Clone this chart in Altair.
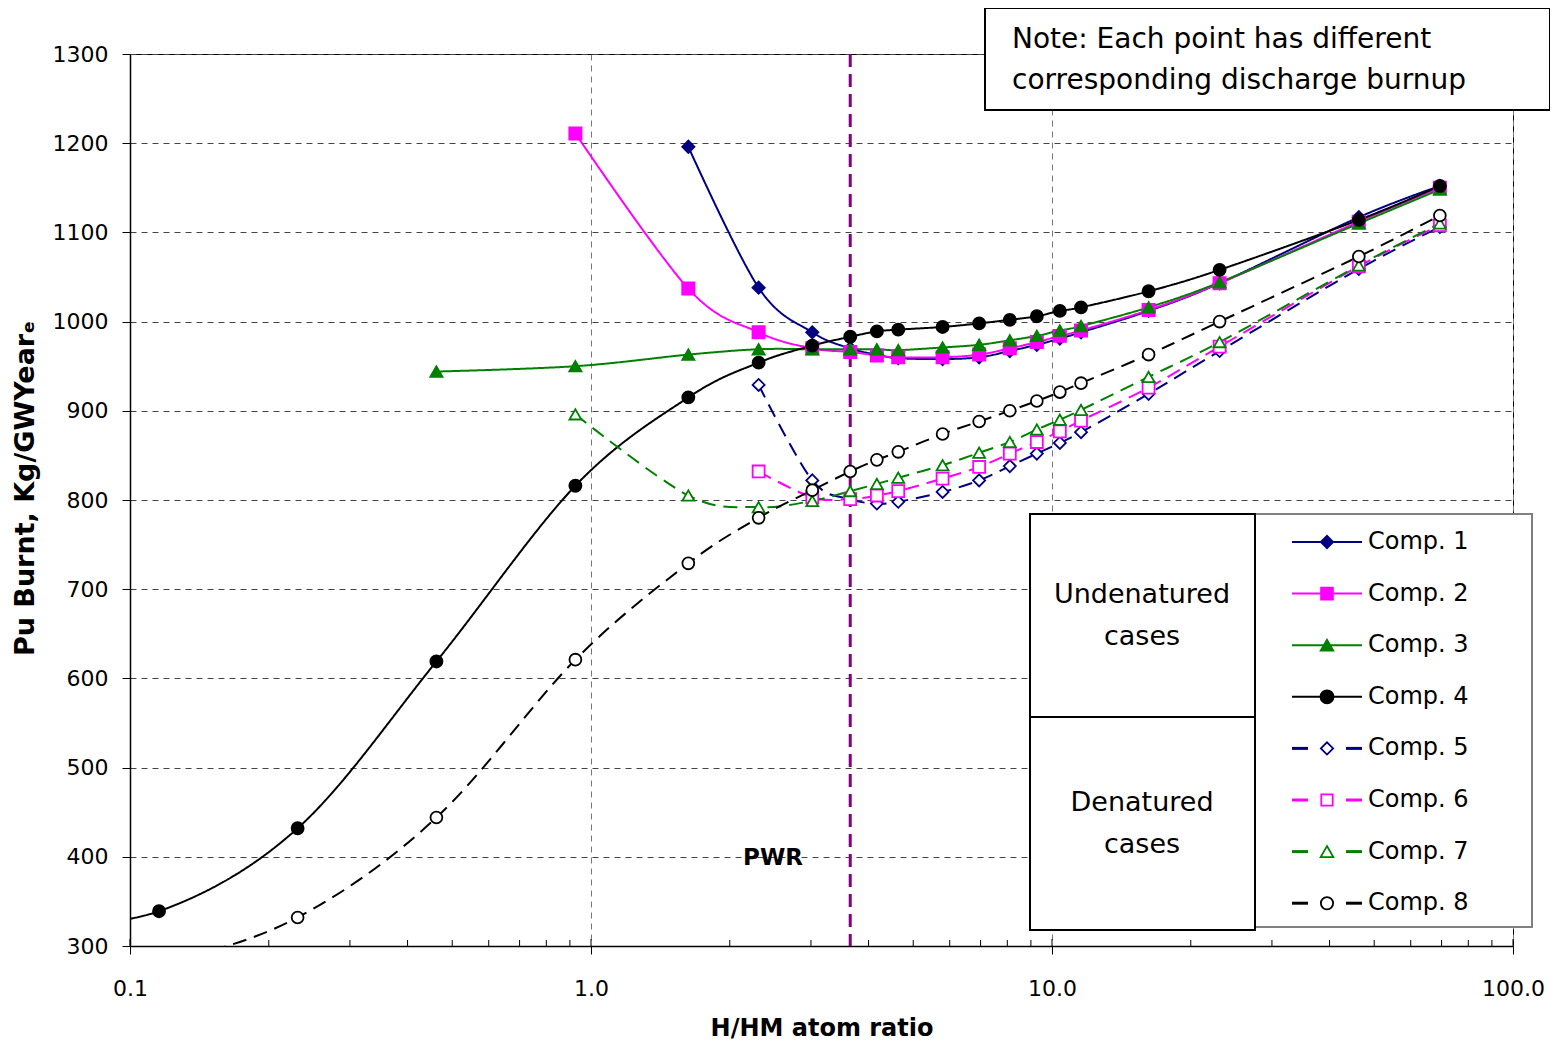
import altair as alt
import pandas as pd

# ---------------- data ----------------
series = ["Comp. 1", "Comp. 2", "Comp. 3", "Comp. 4",
          "Comp. 5", "Comp. 6", "Comp. 7", "Comp. 8"]

# H/HM atom ratio values (shared grid; each series ends at the last value)
x_ratio = [0.0578, 0.1156, 0.231, 0.462, 0.925, 1.626, 2.31, 3.02, 3.65, 4.17, 4.64,
           5.79, 6.95, 8.1, 9.27, 10.4, 11.56, 16.2, 23.1, 46.3, 69.4]

comp1 = [1196, 1038, 988, 970, 963, 959, 958, 960, 967, 974, 981, 988, 1012, 1043, 1117, 1152]
comp2 = [1211, 1037, 988, 970, 966, 962, 960, 960, 963, 970, 977, 984, 990, 1013, 1043, 1112, 1150]
comp3 = [944, 950, 963, 969, 969, 969, 969, 968, 971, 974, 979, 984, 990, 995, 1016, 1044, 1110, 1148]
comp4 = [320, 339, 432, 619, 816, 915, 954, 973, 983, 989, 991, 994, 998, 1002, 1006, 1012, 1016, 1034, 1058, 1114, 1152]
comp5 = [929, 822, 801, 796, 798, 809, 822, 838, 852, 864, 876, 919, 967, 1059, 1106]
comp6 = [832, 803, 801, 805, 810, 824, 837, 852, 865, 877, 889, 926, 972, 1062, 1108]
comp7 = [896, 805, 792, 799, 810, 818, 825, 839, 853, 865, 879, 890, 901, 938, 977, 1063, 1110]
comp8 = [240, 278, 332, 444, 621, 729, 780, 811, 832, 845, 854, 874, 888, 900, 911, 921, 931, 963, 1000, 1073, 1119]

pwr_ratio = [3.65]
x_ticks = [0.1, 1, 10, 100]
x_minor = [0.2, 0.3, 0.4, 0.5, 0.6, 0.7, 0.8, 0.9,
           2, 3, 4, 5, 6, 7, 8, 9,
           20, 30, 40, 50, 60, 70, 80, 90]
y_ticks = [300, 400, 500, 600, 700, 800, 900, 1000, 1100, 1200, 1300]

# ---------------- styles ----------------
colors = ["#000080", "#FF00FF", "#008000", "#000000",
          "#000080", "#FF00FF", "#008000", "#000000"]
fills = ["#000080", "#FF00FF", "#008000", "#000000",
         "white", "white", "white", "white"]
shapes = ["diamond", "square", "triangle-up", "circle",
          "diamond", "square", "triangle-up", "circle"]
sizes = [150, 140, 160, 170, 150, 130, 160, 150]
dashes = [[1, 0], [1, 0], [1, 0], [1, 0], [14, 8], [14, 8], [14, 8], [14, 8]]

all_vals = [comp1, comp2, comp3, comp4, comp5, comp6, comp7, comp8]
rows = []
for i, (name, vals) in enumerate(zip(series, all_vals)):
    xs = x_ratio[len(x_ratio) - len(vals):]
    for x, y in zip(xs, vals):
        rows.append({"series": name, "ratio": x, "burnt": y, "k": i})
df = pd.DataFrame(rows)

FONT = "DejaVu Sans"
W, H = 1383, 892

xscale = alt.Scale(type="log", domain=[0.1, 100], nice=False)
yscale = alt.Scale(domain=[300, 1300], nice=False, zero=False)

xenc = alt.X("ratio:Q", scale=xscale,
             axis=alt.Axis(values=x_ticks, format=".1f", title="H/HM atom ratio",
                           grid=True, gridDash=[6, 5], gridColor="#777777", gridWidth=1,
                           tickSize=8, tickColor="#000000", labelPadding=24,
                           labelFontSize=22, labelFont=FONT, labelColor="#000000",
                           titleFont=FONT, titleFontSize=24, titleFontWeight="bold",
                           titleColor="#000000", titleY=82, titleBaseline="middle",
                           domainColor="#000000", domainWidth=1.5, labelFlush=False))
yenc = alt.Y("burnt:Q", scale=yscale,
             axis=alt.Axis(values=y_ticks, format="d", title="Pu Burnt, Kg/GWYear\u2091",
                           grid=True, gridDash=[6, 5], gridColor="#444444", gridWidth=1,
                           tickSize=8, tickColor="#000000", labelPadding=14,
                           labelFontSize=22, labelFont=FONT, labelColor="#000000",
                           titleFont=FONT, titleFontSize=27, titleFontWeight="bold",
                           titleColor="#000000", titleAngle=270, titleX=-105, titleY=434,
                           titleAlign="center", titleBaseline="middle",
                           domainColor="#000000", domainWidth=1.5))

lines = alt.Chart(df).mark_line(clip=True, interpolate="cardinal", tension=0, strokeWidth=2).encode(
    x=xenc, y=yenc,
    color=alt.Color("series:N", scale=alt.Scale(domain=series, range=colors), legend=None),
    strokeDash=alt.StrokeDash("series:N", scale=alt.Scale(domain=series, range=dashes), legend=None),
    order=alt.Order("ratio:Q"),
)

points = alt.Chart(df).mark_point(clip=True, filled=True, opacity=1, strokeWidth=1.8).encode(
    x=alt.X("ratio:Q", scale=xscale),
    y=alt.Y("burnt:Q", scale=yscale),
    shape=alt.Shape("series:N", scale=alt.Scale(domain=series, range=shapes), legend=None),
    fill=alt.Fill("series:N", scale=alt.Scale(domain=series, range=fills), legend=None),
    stroke=alt.Stroke("series:N", scale=alt.Scale(domain=series, range=colors), legend=None),
    size=alt.Size("series:N", scale=alt.Scale(domain=series, range=sizes), legend=None),
    order=alt.Order("k:Q"),
)

pwr = alt.Chart(pd.DataFrame({"ratio": pwr_ratio})).mark_rule(
    color="#800080", strokeWidth=3, strokeDash=[13, 7]).encode(
    x=alt.X("ratio:Q", scale=xscale))

minor = alt.Chart(pd.DataFrame({"ratio": x_minor})).mark_rule(
    color="#000000", strokeWidth=1).encode(
    x=alt.X("ratio:Q", scale=xscale), y=alt.value(H - 6), y2=alt.value(H))
major_in = alt.Chart(pd.DataFrame({"ratio": x_ticks})).mark_rule(
    color="#000000", strokeWidth=1).encode(
    x=alt.X("ratio:Q", scale=xscale), y=alt.value(H - 7), y2=alt.value(H))

one = pd.DataFrame({"k": [0]})

pwr_text = alt.Chart(one).mark_text(text="PWR", font=FONT, fontSize=23, fontWeight="bold",
                                    align="center", baseline="middle", color="#000000").encode(
    x=alt.value(643), y=alt.value(804))

# Note box
note_box = alt.Chart(one).mark_rect(fill="white", stroke="#000000", strokeWidth=2).encode(
    x=alt.value(855), x2=alt.value(1420), y=alt.value(-46), y2=alt.value(56))
note_l1 = alt.Chart(one).mark_text(text="Note: Each point has different", font=FONT,
                                   fontSize=28, align="left", baseline="middle", color="#000000").encode(
    x=alt.value(882), y=alt.value(-14))
note_l2 = alt.Chart(one).mark_text(text="corresponding discharge burnup", font=FONT,
                                   fontSize=28, align="left", baseline="middle", color="#000000").encode(
    x=alt.value(882), y=alt.value(27))

# Legend boxes
leg_right = alt.Chart(one).mark_rect(fill="white", stroke="#808080", strokeWidth=2).encode(
    x=alt.value(1125), x2=alt.value(1402), y=alt.value(460), y2=alt.value(873))
leg_top = alt.Chart(one).mark_rect(fill="white", stroke="#000000", strokeWidth=2).encode(
    x=alt.value(900), x2=alt.value(1125), y=alt.value(460), y2=alt.value(663))
leg_bot = alt.Chart(one).mark_rect(fill="white", stroke="#000000", strokeWidth=2).encode(
    x=alt.value(900), x2=alt.value(1125), y=alt.value(663), y2=alt.value(876))

group_texts = []
for txt, yy in [("Undenatured", 541), ("cases", 583), ("Denatured", 749), ("cases", 791)]:
    group_texts.append(alt.Chart(one).mark_text(text=txt, font=FONT, fontSize=27, align="center",
                                                baseline="middle", color="#000000").encode(
        x=alt.value(1012), y=alt.value(yy)))

legend_layers = []
for i, name in enumerate(series):
    yy = 488 + i * 51.6
    if i < 4:
        legend_layers.append(alt.Chart(one).mark_rule(color=colors[i], strokeWidth=2).encode(
            x=alt.value(1162), x2=alt.value(1232), y=alt.value(yy)))
    else:
        legend_layers.append(alt.Chart(one).mark_rule(color=colors[i], strokeWidth=3).encode(
            x=alt.value(1162), x2=alt.value(1178), y=alt.value(yy)))
        legend_layers.append(alt.Chart(one).mark_rule(color=colors[i], strokeWidth=3).encode(
            x=alt.value(1216), x2=alt.value(1232), y=alt.value(yy)))
    legend_layers.append(alt.Chart(one).mark_point(shape=shapes[i], filled=True, fill=fills[i],
                                                   stroke=colors[i], size=sizes[i], opacity=1,
                                                   strokeWidth=1.8).encode(
        x=alt.value(1197), y=alt.value(yy)))
    legend_layers.append(alt.Chart(one).mark_text(text=name, font=FONT, fontSize=24, align="left",
                                                  baseline="middle", color="#000000").encode(
        x=alt.value(1238), y=alt.value(yy)))

chart = alt.layer(
    lines, pwr, points, minor, major_in, pwr_text,
    note_box, note_l1, note_l2,
    leg_right, leg_top, leg_bot, *group_texts, *legend_layers,
).properties(
    width=W, height=H,
    padding={"left": 122, "top": 46, "right": 37, "bottom": 94},
    autosize=alt.AutoSizeParams(type="none"),
).configure_view(
    stroke="#000000", strokeWidth=1
)

chart.save("out.html", embed_options={"renderer": "svg", "actions": False})
